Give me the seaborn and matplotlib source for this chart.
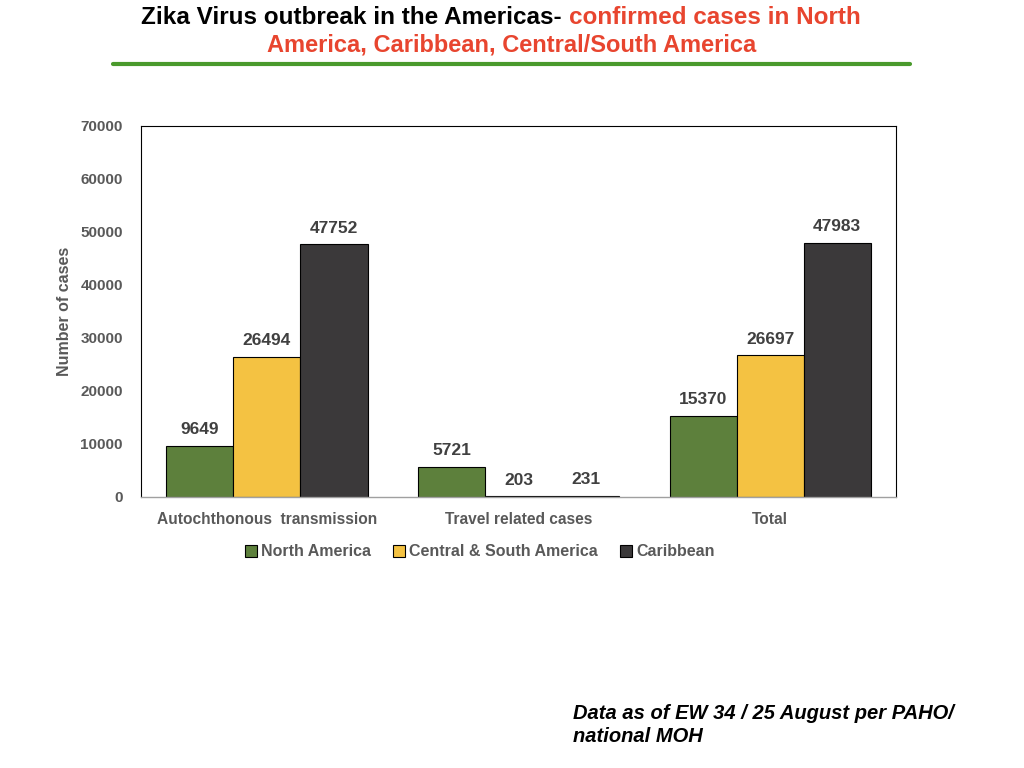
import pandas as pd
import seaborn as sns
import matplotlib.pyplot as plt
from matplotlib.lines import Line2D
from matplotlib.patches import Patch

# data
categories = ["Autochthonous  transmission", "Travel related cases", "Total"]
regions = ["North America", "Central & South America", "Caribbean"]
north_america = [9649, 5721, 15370]
central_south = [26494, 203, 26697]
caribbean = [47752, 231, 47983]
yticks = [0, 10000, 20000, 30000, 40000, 50000, 60000, 70000]

colors = ["#5D803C", "#F4C242", "#3B393A"]
gray = "#595959"

rows = []
for region, values in zip(regions, [north_america, central_south, caribbean]):
    for cat, v in zip(categories, values):
        rows.append({"category": cat, "region": region, "cases": v})
df = pd.DataFrame(rows)

sns.set_style("white")
plt.rcParams["font.family"] = ["Liberation Sans", "DejaVu Sans"]

fig = plt.figure(figsize=(10.24, 7.68), dpi=100)
ax = fig.add_axes([0.1377, 0.3529, 0.7373, 0.4831])

sns.barplot(data=df, x="category", y="cases", hue="region", order=categories,
            hue_order=regions, palette=colors, saturation=1, edgecolor="black",
            linewidth=0.8, width=0.8, ax=ax)
ax.legend_.remove()

for cont in ax.containers:
    ax.bar_label(cont, padding=6, fontsize=12.5, fontweight="bold", color="#404040")

ax.set_xlim(-0.5, 2.5)
ax.set_ylim(0, 70000)
ax.set_yticks(yticks)
ax.set_yticklabels([str(t) for t in yticks], fontsize=11, fontweight="bold", color=gray)
ax.set_xticks(range(len(categories)))
ax.set_xticklabels(categories, fontsize=11.2, fontweight="bold", color=gray)
ax.tick_params(axis="y", length=0, pad=13)
ax.tick_params(axis="x", length=0, pad=11)
ax.set_xlabel("")
ax.set_ylabel("Number of cases", fontsize=11.5, fontweight="bold", color=gray, labelpad=6)
for side in ["top", "right", "left"]:
    ax.spines[side].set_color("black")
    ax.spines[side].set_linewidth(0.8)
ax.spines["bottom"].set_color("#A0A0A0")
ax.spines["bottom"].set_linewidth(1.0)

handles = [Patch(facecolor=c, edgecolor="black", linewidth=0.8) for c in colors]
fig.legend(handles, regions, loc="center", bbox_to_anchor=(480 / 1024, 1 - 552 / 768),
           ncol=3, frameon=False, handlelength=0.75, handleheight=0.75,
           handletextpad=0.25, columnspacing=1.4,
           prop={"size": 11.5, "weight": "bold"}, labelcolor=gray)

# title in two colours
fig.canvas.draw()
renderer = fig.canvas.get_renderer()
part1 = "Zika Virus outbreak in the Americas- "
part2 = "confirmed cases in North"
t1 = fig.text(0, 1 - 17 / 768, part1, fontsize=17.5, fontweight="bold", color="black",
              va="center", ha="left")
t2 = fig.text(0, 1 - 17 / 768, part2, fontsize=17.5, fontweight="bold", color="#E8452F",
              va="center", ha="left")
w1 = t1.get_window_extent(renderer).width
w2 = t2.get_window_extent(renderer).width
x0 = 501 - (w1 + w2) / 2
t1.set_x(x0 / 1024)
t2.set_x((x0 + w1) / 1024)
fig.text(512 / 1024, 1 - 45 / 768, "America, Caribbean, Central/South America",
         fontsize=17, fontweight="bold", color="#E8452F", ha="center", va="center")

fig.add_artist(Line2D([113 / 1024, 910 / 1024], [1 - 64 / 768, 1 - 64 / 768],
                      color="#4A9A2C", linewidth=3))

fig.text(573 / 1024, 1 - 725 / 768, "Data as of EW 34 / 25 August per PAHO/\nnational MOH",
         fontsize=14.5, fontweight="bold", fontstyle="italic", color="black",
         ha="left", va="center", linespacing=1.25)

plt.savefig("out.png", dpi=100)
